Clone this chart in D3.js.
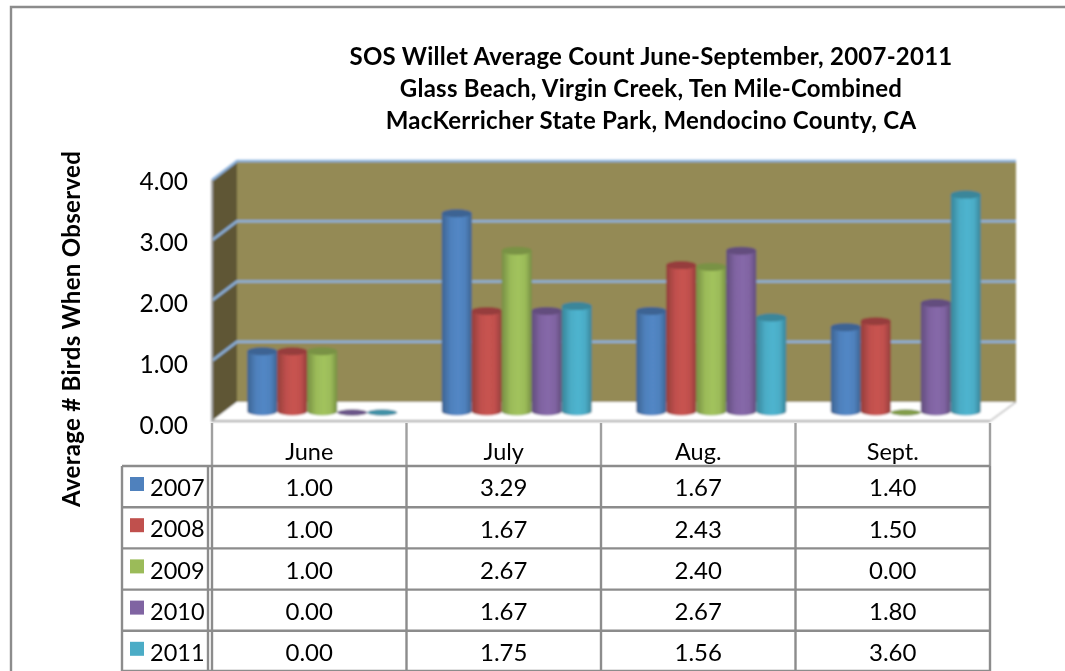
<!DOCTYPE html>
<html><head><meta charset="utf-8">
<script src="https://cdn.jsdelivr.net/npm/d3@7/dist/d3.min.js"></script>
<style>html,body{margin:0;padding:0;background:#fff}svg{display:block}text{font-family:Lato,"Open Sans",sans-serif;fill:#000}</style>
</head><body><svg id="c" width="1065" height="671"></svg>
<script>
const categories=["June","July","Aug.","Sept."];
const years=["2007","2008","2009","2010","2011"];
const v2007=[1.00,3.29,1.67,1.40];
const v2008=[1.00,1.67,2.43,1.50];
const v2009=[1.00,2.67,2.40,0.00];
const v2010=[0.00,1.67,2.67,1.80];
const v2011=[0.00,1.75,1.56,3.60];
const seriesValues=[v2007,v2008,v2009,v2010,v2011];
const colors=["#4F81BD","#C0504D","#9BBB59","#8064A2","#4BACC6"];
const yTicks=[0,1,2,3,4];
const titleLines=["SOS Willet Average Count June-September, 2007-2011","Glass Beach, Virgin Creek, Ten Mile-Combined","MacKerricher State Park, Mendocino County, CA"];
const yTitle="Average # Birds When Observed";

const svg=d3.select("#c");
const defs=svg.append("defs");
defs.append("filter").attr("id","soft").attr("x","-5%").attr("y","-5%").attr("width","110%").attr("height","110%")
  .append("feGaussianBlur").attr("stdDeviation",0.9);
defs.append("filter").attr("id","softText").attr("x","-5%").attr("y","-5%").attr("width","110%").attr("height","110%")
  .append("feGaussianBlur").attr("stdDeviation",0.35);
colors.forEach((c,i)=>{
  const g=defs.append("linearGradient").attr("id","g"+i);
  const dark=d3.color(c).darker(0.75), mid=d3.color(c).brighter(0.12);
  [[0,dark],[0.3,c],[0.55,mid],[0.78,c],[1,dark]].forEach(s=>g.append("stop").attr("offset",s[0]).attr("stop-color",s[1]));
});

// outer chart border
svg.append("path").attr("d","M11,671V7H1065").attr("fill","none").attr("stroke","#8c8c8c").attr("stroke-width",2.4);

// scales
const depthX=25, depthY=19, frontBase=421, plotH=241;
const y=d3.scaleLinear().domain([0,4]).range([plotH,0]);
const yLabels=d3.scaleLinear().domain([0,4]).range([244,0]);
const x0=d3.scaleBand().domain(categories).range([212,990]);
const x1=d3.scaleBand().domain(years).range([-62,88]);   // offset from category centre
const rows=d3.scaleBand().domain(years).range([466,672]);
const backBase=frontBase-depthY, backX0=212+depthX, backX1=990+depthX+1;
const barBase=411.5;

const plot=svg.append("g").attr("filter","url(#soft)");
plot.append("rect").attr("x",backX0).attr("y",backBase-plotH).attr("width",backX1-backX0).attr("height",plotH).attr("fill","#948A54");
plot.append("path").attr("d",`M212,${frontBase}L212,${frontBase-plotH}L${backX0},${backBase-plotH}L${backX0},${backBase}Z`).attr("fill","#5E5734");
plot.append("path").attr("d",`M212,${frontBase}L${backX0},${backBase}L${backX1},${backBase}L990,${frontBase}Z`).attr("fill","#fff");
plot.append("path").attr("d",`M${backX1},${backBase}L990,${frontBase}`).attr("stroke","#b5b5b5").attr("stroke-width",1.5);
yTicks.slice(1).forEach(t=>{
  const gy=y(t);
  plot.append("path").attr("d",`M212,${frontBase-plotH+gy}L${backX0},${backBase-plotH+gy}L${backX1},${backBase-plotH+gy}`)
    .attr("fill","none").attr("stroke","#8DB2DC").attr("stroke-width",2.6);
});
plot.append("path").attr("d",`M212,${frontBase-plotH}V${frontBase}H990`).attr("fill","none").attr("stroke","#a6a6a6").attr("stroke-width",2);

// cylinders
const rx=15, ry=4;
categories.forEach((cat,ci)=>{
  years.forEach((yr,si)=>{
    const val=seriesValues[si][ci];
    const cx=x0(cat)+x0.bandwidth()/2+x1(yr)+x1.bandwidth()/2;
    const topY=barBase-(plotH-y(val));
    const g=plot.append("g");
    if(val>0){
      g.append("path").attr("d",`M${cx-rx},${topY}V${barBase}A${rx},${ry} 0 0 0 ${cx+rx},${barBase}V${topY}Z`).attr("fill",`url(#g${si})`);
      g.append("ellipse").attr("cx",cx).attr("cy",topY).attr("rx",rx).attr("ry",ry).attr("fill",d3.color(colors[si]).darker(0.7));
    } else {
      g.append("ellipse").attr("cx",cx).attr("cy",barBase+1).attr("rx",rx).attr("ry",3.2).attr("fill",d3.color(colors[si]).darker(0.5));
    }
  });
});

const textLayer=svg.append("g").attr("filter","url(#softText)");
// y axis labels
const axisG=textLayer.append("g").attr("transform",`translate(188,${frontBase+5-244})`)
  .call(d3.axisLeft(yLabels).tickValues(yTicks).tickFormat(d3.format(".2f")).tickSize(0).tickPadding(0));
axisG.select(".domain").remove();
axisG.selectAll("text").attr("font-size",24.5).style("font-family","Lato").attr("fill","#000");

// titles
titleLines.forEach((t,i)=>textLayer.append("text").attr("x",651).attr("y",65+i*32).attr("text-anchor","middle").attr("font-weight",700).attr("font-size",24).attr("letter-spacing",0.25).text(t));
textLayer.append("text").attr("transform","translate(80,329) rotate(-90)").attr("text-anchor","middle").attr("font-weight",700).attr("font-size",24).attr("letter-spacing",0.3).text(yTitle);

// data table
const tbl=svg.append("g").attr("stroke","#8c8c8c").attr("stroke-width",2.4).attr("fill","none");
const edges=[...categories.map(c=>x0(c)),990];
edges.forEach(e=>tbl.append("line").attr("x1",e).attr("x2",e).attr("y1",423).attr("y2",466).attr("stroke","#a0a0a0"));
[122,208].forEach(e=>tbl.append("line").attr("x1",e).attr("x2",e).attr("y1",466).attr("y2",671));
edges.forEach(e=>tbl.append("line").attr("x1",e).attr("x2",e).attr("y1",466).attr("y2",671));
[...years.map(r=>rows(r)),rows.range()[1]-1].forEach(p=>tbl.append("line").attr("x1",122).attr("x2",990).attr("y1",p).attr("y2",p));

categories.forEach(c=>textLayer.append("text").attr("x",x0(c)+x0.bandwidth()/2).attr("y",460).attr("text-anchor","middle").attr("font-size",23.5).text(c));
years.forEach((yr,si)=>{
  const ry0=rows(yr), mid=ry0+rows.bandwidth()/2;
  svg.append("rect").attr("x",130).attr("y",mid-9.6).attr("width",14).attr("height",14).attr("fill",colors[si]);
  textLayer.append("text").attr("x",150).attr("y",mid+9.5).attr("font-size",23.5).text(yr);
  categories.forEach((c,ci)=>textLayer.append("text").attr("x",x0(c)+x0.bandwidth()/2).attr("y",mid+9.7).attr("text-anchor","middle").attr("font-size",24).text(d3.format(".2f")(seriesValues[si][ci])));
});
</script></body></html>
